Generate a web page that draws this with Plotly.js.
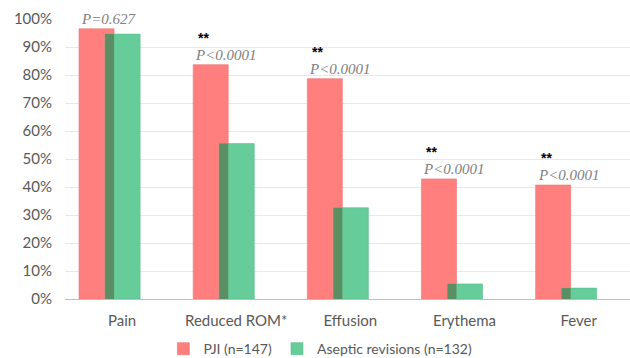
<!DOCTYPE html>
<html>
<head>
<meta charset="utf-8">
<script src="https://cdn.plot.ly/plotly-3.0.1.min.js"></script>
<style>
html,body{margin:0;padding:0;background:#fff;}
#chart{width:630px;height:358px;}
</style>
</head>
<body>
<div id="chart"></div>
<script>
var categories = ["Pain", "Reduced ROM*", "Effusion", "Erythema", "Fever"];
var pjiValues = [0.965, 0.837, 0.787, 0.429, 0.407];
var asepticValues = [0.946, 0.555, 0.326, 0.054, 0.039];
var pLabels = ["P=0.627", "P<0.0001", "P<0.0001", "P<0.0001", "P<0.0001"];
var starLabels = ["", "**", "**", "**", "**"];
var seriesNames = ["PJI (n=147)", "Aseptic revisions (n=132)"];

var barW = 0.307;
var traces = [
  {type:"bar", x:categories, y:pjiValues, name:seriesNames[0],
   marker:{color:"#FF7F7F", line:{color:"#F27474", width:0.6}},
   width:barW, offset:-0.377, hoverinfo:"skip"},
  {type:"bar", x:categories, y:asepticValues, name:seriesNames[1],
   marker:{color:"#66CC99", line:{color:"#5DC08E", width:0.6}},
   width:barW, offset:-0.149, hoverinfo:"skip"},
  // overlap region where the green bar covers the red one (green is always the shorter)
  {type:"bar", x:categories, y:asepticValues, showlegend:false,
   marker:{color:"#5B8F63", line:{width:0}},
   width:0.079, offset:-0.149, hoverinfo:"skip"}
];

var annotations = [];
categories.forEach(function(c, i){
  annotations.push({x:c, y:pjiValues[i], xref:"x", yref:"y", text:"<i>" + pLabels[i] + "</i>",
    showarrow:false, xanchor:"left", yanchor:"middle", xshift:-43, yshift:10,
    font:{family:"Liberation Serif, serif", size:15, color:"#808080"}});
  if (starLabels[i]) {
    annotations.push({x:c, y:pjiValues[i], xref:"x", yref:"y", text:"<b>" + starLabels[i] + "</b>",
      showarrow:false, xanchor:"left", yanchor:"middle", xshift:-40, yshift:27,
      font:{family:"Liberation Sans, sans-serif", size:14, color:"#000"}});
  }
});

var layout = {
  width:630, height:358,
  margin:{l:65, r:0, t:19, b:59},
  paper_bgcolor:"#fff", plot_bgcolor:"#fff",
  barmode:"overlay",
  showlegend:true,
  legend:{orientation:"h", x:0.452, xanchor:"center", yref:"container", y:0.025, yanchor:"middle",
    font:{family:"Lato, sans-serif", size:14, color:"#595959"}, itemwidth:30},
  xaxis:{type:"category", range:[-0.5, 4.45], showgrid:false, zeroline:false, automargin:false,
    showline:true, linecolor:"#BFBFBF", linewidth:1, ticks:"",
    tickfont:{family:"Lato, sans-serif", size:15, color:"#595959"}, ticklabelstandoff:8},
  yaxis:{range:[0, 1.0], dtick:0.1, tickformat:".0%", showgrid:true, automargin:false,
    gridcolor:"#E8E8E8", gridwidth:1, zeroline:false, showline:false, ticks:"",
    tickfont:{family:"Lato, sans-serif", size:15, color:"#595959"}, ticklabelstandoff:12},
  annotations:annotations
};

Plotly.newPlot("chart", traces, layout, {displayModeBar:false, staticPlot:true});
</script>
</body>
</html>
